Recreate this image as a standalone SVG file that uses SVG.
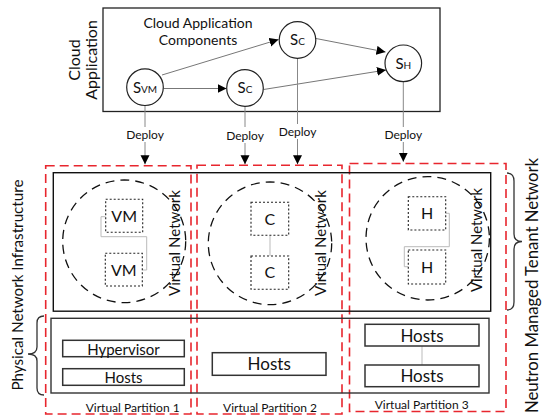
<svg xmlns="http://www.w3.org/2000/svg" width="543" height="416" viewBox="0 0 543 416">
<style>
text{font-family:Lato,"Open Sans","Liberation Sans",sans-serif;fill:#111}
.box{fill:#fff;stroke:#222;stroke-width:1.3}
.circ{fill:#fff;stroke:#222;stroke-width:1.2}
.part{fill:none;stroke:#e8262e;stroke-width:1.6;stroke-dasharray:9,5}
.vnet{fill:none;stroke:#111;stroke-width:1.3;stroke-dasharray:9,6}
.dot{fill:#fff;stroke:#222;stroke-width:1.1;stroke-dasharray:2,2}
.gl{fill:none;stroke:#bbb;stroke-width:1}
.dl{stroke:#888;stroke-width:1}
.al{stroke:#777;stroke-width:1;fill:none}
.brace{fill:none;stroke:#333;stroke-width:1.3}
.hb{fill:#fff;stroke:#333;stroke-width:1.5}
</style>
<defs>
<marker id="ah" markerUnits="userSpaceOnUse" markerWidth="10" markerHeight="10" refX="9" refY="4.5" orient="auto">
<path d="M0,0 L9,4.5 L0,9 Z" fill="#000"/>
</marker>
</defs>

<!-- Partitions (dashed red) -->
<g id="partition1">
<rect class="part" x="45.7" y="165.7" width="145.3" height="248.3"/>
<text x="132.7" y="412" font-size="12" text-anchor="middle" textLength="94" lengthAdjust="spacingAndGlyphs">Virtual Partition 1</text>
</g>
<g id="partition2">
<rect class="part" x="197" y="165.3" width="145" height="248.7"/>
<text x="270" y="412" font-size="12" text-anchor="middle" textLength="94" lengthAdjust="spacingAndGlyphs">Virtual Partition 2</text>
</g>
<g id="partition3">
<rect class="part" x="349.5" y="163.5" width="156.5" height="248"/>
<text x="421.7" y="409" font-size="12" text-anchor="middle" textLength="94" lengthAdjust="spacingAndGlyphs">Virtual Partition 3</text>
</g>

<!-- Cloud application box -->
<g id="cloud-app">
<rect class="box" x="103" y="8" width="337" height="103.5" fill="none"/>
<text x="198" y="28" font-size="14" text-anchor="middle">Cloud Application</text>
<text x="198" y="45" font-size="14" text-anchor="middle">Components</text>
<text transform="translate(80,60) rotate(-90)" font-size="16" text-anchor="middle">Cloud</text>
<text transform="translate(97,60) rotate(-90)" font-size="16" text-anchor="middle">Application</text>
</g>

<!-- Connectors -->
<g id="connectors">
<line class="al" x1="162" y1="75" x2="278.5" y2="39.5" marker-end="url(#ah)"/>
<line class="al" x1="163.5" y1="88.5" x2="226.5" y2="88.5" marker-end="url(#ah)"/>
<line class="al" x1="316" y1="38.5" x2="385.5" y2="52" marker-end="url(#ah)"/>
<line class="al" x1="263.5" y1="89.5" x2="386" y2="70" marker-end="url(#ah)"/>
<line class="dl" x1="145" y1="105" x2="145" y2="127"/>
<line class="dl" x1="145" y1="142" x2="145" y2="164.3" marker-end="url(#ah)"/>
<line class="dl" x1="245" y1="106.5" x2="245" y2="127"/>
<line class="dl" x1="245" y1="143" x2="245" y2="164.3" marker-end="url(#ah)"/>
<line class="dl" x1="297.5" y1="58.5" x2="297.5" y2="124"/>
<line class="dl" x1="297.5" y1="139" x2="297.5" y2="164.3" marker-end="url(#ah)"/>
<line class="dl" x1="403.3" y1="81.8" x2="403.3" y2="127"/>
<line class="dl" x1="403.3" y1="142" x2="403.3" y2="161.7" marker-end="url(#ah)"/>
<text x="145" y="138.5" font-size="12" text-anchor="middle">Deploy</text>
<text x="245" y="139.5" font-size="12" text-anchor="middle">Deploy</text>
<text x="297.5" y="136" font-size="12" text-anchor="middle">Deploy</text>
<text x="403.3" y="139" font-size="12" text-anchor="middle">Deploy</text>
<polyline class="gl" points="105.7,216.7 101,216.7 101,236.7 146.7,236.7 146.7,270 142.3,270"/>
<line class="gl" x1="270" y1="235.3" x2="270" y2="256"/>
<polyline class="gl" points="445.7,213.3 449.3,213.3 449.3,246.7 404.3,246.7 404.3,266.7 408.3,266.7"/>
<line class="gl" x1="422" y1="346" x2="422" y2="365"/>
</g>

<!-- Components -->
<g id="svm">
<circle class="circ" cx="145" cy="87.2" r="18.3"/>
<text x="145" y="92.5" font-size="15" text-anchor="middle">S<tspan font-size="10">VM</tspan></text>
</g>
<g id="sc-lower">
<circle class="circ" cx="245" cy="88" r="18.3"/>
<text x="245" y="93.3" font-size="15" text-anchor="middle">S<tspan font-size="10">C</tspan></text>
</g>
<g id="sc-upper">
<circle class="circ" cx="297.5" cy="40" r="18.3"/>
<text x="297.5" y="45.3" font-size="15" text-anchor="middle">S<tspan font-size="10">C</tspan></text>
</g>
<g id="sh">
<circle class="circ" cx="403.3" cy="63.3" r="18.3"/>
<text x="403.3" y="68.6" font-size="15" text-anchor="middle">S<tspan font-size="10">H</tspan></text>
</g>

<!-- Tenant network layer -->
<g id="tenant-layer">
<rect x="53.3" y="172.7" width="437.4" height="138.5" fill="none" stroke="#111" stroke-width="1.4"/>
</g>
<g id="vnet1">
<ellipse class="vnet" cx="124.2" cy="241.3" rx="61.5" ry="61.3"/>
<text transform="translate(179.5,243) rotate(-90)" font-size="16" text-anchor="middle" textLength="106" lengthAdjust="spacingAndGlyphs">Virtual Network</text>
</g>
<g id="vm1"><rect class="dot" x="105.7" y="199.3" width="37" height="33"/><text x="124.2" y="221.5" font-size="16" text-anchor="middle">VM</text></g>
<g id="vm2"><rect class="dot" x="105.3" y="253.3" width="37" height="32.7"/><text x="123.8" y="275.5" font-size="16" text-anchor="middle">VM</text></g>
<g id="vnet2">
<ellipse class="vnet" cx="270" cy="243.3" rx="61.7" ry="61.3"/>
<text transform="translate(326,243) rotate(-90)" font-size="16" text-anchor="middle" textLength="106" lengthAdjust="spacingAndGlyphs">Virtual Network</text>
</g>
<g id="c1"><rect class="dot" x="251" y="202.3" width="37.7" height="33"/><text x="269.9" y="224.5" font-size="16" text-anchor="middle">C</text></g>
<g id="c2"><rect class="dot" x="251" y="256" width="37.7" height="33.3"/><text x="269.9" y="278.3" font-size="16" text-anchor="middle">C</text></g>
<g id="vnet3">
<ellipse class="vnet" cx="427.7" cy="238.3" rx="61.7" ry="61.7"/>
<text transform="translate(482,240) rotate(-90)" font-size="16" text-anchor="middle" textLength="104" lengthAdjust="spacingAndGlyphs">Virtual Network</text>
</g>
<g id="h1"><rect class="dot" x="408.3" y="196.7" width="37.4" height="33.3"/><text x="427" y="219" font-size="16" text-anchor="middle">H</text></g>
<g id="h2"><rect class="dot" x="408.3" y="250" width="37.4" height="34"/><text x="427" y="272.6" font-size="16" text-anchor="middle">H</text></g>

<!-- Physical layer -->
<g id="physical-layer">
<rect x="51" y="318.3" width="438" height="74.7" fill="none" stroke="#333" stroke-width="1.4"/>
</g>
<g id="hypervisor1"><rect class="hb" x="62.7" y="340.3" width="121.6" height="16.4"/><text x="123.5" y="354.5" font-size="15" text-anchor="middle">Hypervisor</text></g>
<g id="hosts1"><rect class="hb" x="62.7" y="368.7" width="121.6" height="16.6"/><text x="123.5" y="383" font-size="15" text-anchor="middle">Hosts</text></g>
<g id="hosts2"><rect class="hb" x="212.3" y="352.7" width="113.7" height="22.6"/><text x="269.2" y="370" font-size="17" text-anchor="middle">Hosts</text></g>
<g id="hosts3a"><rect class="hb" x="365" y="324.3" width="114" height="21.7"/><text x="422" y="341.5" font-size="17" text-anchor="middle">Hosts</text></g>
<g id="hosts3b"><rect class="hb" x="365" y="365" width="114" height="21.7"/><text x="422" y="382.3" font-size="17" text-anchor="middle">Hosts</text></g>

<!-- Side labels -->
<g id="neutron-label">
<path class="brace" d="M507,173 Q514,173 514,181 L514,234 Q514,241.5 522,241.5 Q514,241.5 514,249 L514,302 Q514,310 507,310"/>
<text transform="translate(538,285.5) rotate(-90)" font-size="17" text-anchor="middle" textLength="255" lengthAdjust="spacingAndGlyphs">Neutron Managed Tenant Network</text>
</g>
<g id="physical-label">
<path class="brace" d="M44,316 Q37,316 37,323 L37,347 Q37,354 28,354 Q37,354 37,361 L37,388 Q37,395 44,395"/>
<text transform="translate(22.5,285) rotate(-90)" font-size="15.5" text-anchor="middle" textLength="211" lengthAdjust="spacingAndGlyphs">Physical Network Infrastructure</text>
</g>
</svg>
